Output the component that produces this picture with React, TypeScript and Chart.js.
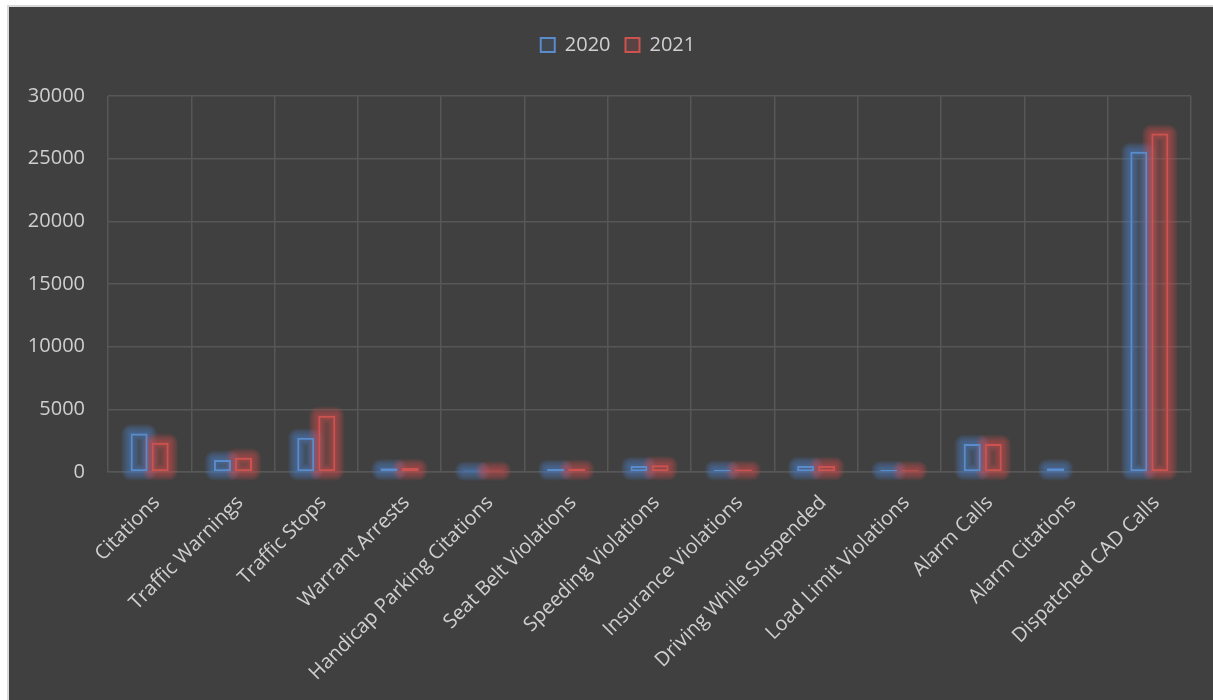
import React, { useEffect, useRef } from "react";
import { Chart, registerables } from "chart.js";

Chart.register(...registerables);

const categories = [
  "Citations",
  "Traffic Warnings",
  "Traffic Stops",
  "Warrant Arrests",
  "Handicap Parking Citations",
  "Seat Belt Violations",
  "Speeding Violations",
  "Insurance Violations",
  "Driving While Suspended",
  "Load Limit Violations",
  "Alarm Calls",
  "Alarm Citations",
  "Dispatched CAD Calls",
];

const values2020: (number | null)[] = [3080, 960, 2740, 300, 110, 240, 480, 185, 480, 150, 2240, 300, 25550];
const values2021: (number | null)[] = [2340, 1140, 4490, 320, 120, 250, 530, 190, 480, 140, 2230, null, 27000];

const seriesNames = ["2020", "2021"];

const yTicks = [0, 5000, 10000, 15000, 20000, 25000, 30000];

const FONT = "'Open Sans', 'Noto Sans', sans-serif";

const glowRGB = ["79,129,199", "205,78,75"];

const glowPlugin = {
  id: "glow",
  beforeInit(chart: any) {
    const legend = chart.legend;
    if (legend) {
      const fit = legend.fit;
      legend.fit = function () {
        fit.call(this);
        this.height += 31;
      };
    }
  },
  afterLayout(chart: any) {
    const legend = chart.legend;
    if (legend) {
      legend.left += 18;
      legend.right += 18;
    }
  },
  beforeDatasetsDraw(chart: any) {
    const ctx = chart.ctx;
    chart.data.datasets.forEach((ds: any, di: number) => {
      const meta = chart.getDatasetMeta(di);
      const rgb = glowRGB[di];
      meta.data.forEach((el: any, i: number) => {
        if (ds.data[i] === null || ds.data[i] === undefined) return;
        const p = el.getProps(["x", "y", "base", "width"], true);
        const left = p.x - p.width / 2;
        const top = Math.min(p.y, p.base);
        const h = Math.max(Math.abs(p.base - p.y), 1);
        ctx.save();
        ctx.lineJoin = "round";
        for (let k = 0; k < 8; k++) {
          ctx.strokeStyle = `rgba(${rgb},0.1)`;
          ctx.lineWidth = 3 + 2.2 * k;
          ctx.strokeRect(left, top, p.width, h);
        }
        ctx.restore();
      });
    });
  },
};

export default function App() {
  const ref = useRef<HTMLCanvasElement | null>(null);

  useEffect(() => {
    if (!ref.current) return;
    const chart = new Chart(ref.current, {
      type: "bar",
      data: {
        labels: categories,
        datasets: [
          {
            label: seriesNames[0],
            data: values2020,
            backgroundColor: "rgba(79,129,189,0.12)",
            borderColor: "#5a8bcb",
            borderWidth: 2,
            borderSkipped: false,
            categoryPercentage: 0.505,
            barPercentage: 0.81,
          },
          {
            label: seriesNames[1],
            data: values2021,
            backgroundColor: "rgba(192,80,77,0.2)",
            borderColor: "#cc5350",
            borderWidth: 2,
            borderSkipped: false,
            categoryPercentage: 0.505,
            barPercentage: 0.81,
          },
        ],
      },
      options: {
        animation: false,
        responsive: false,
        maintainAspectRatio: false,
        devicePixelRatio: 1,
        layout: { padding: { left: 0, right: 22, top: 13, bottom: 10 } },
        plugins: {
          legend: {
            position: "top",
            labels: {
              color: "#d0d0d0",
              font: { family: FONT, size: 20 },
              boxWidth: 14,
              boxHeight: 14,
              padding: 15,
            },
          },
          tooltip: { enabled: false },
        },
        scales: {
          x: {
            grid: { color: "#575757", lineWidth: 1.5, drawTicks: false, offset: true },
            border: { color: "#575757", width: 1.5 },
            ticks: {
              color: "#cfcfcf",
              font: { family: FONT, size: 20 },
              maxRotation: 45,
              minRotation: 45,
              autoSkip: false,
              padding: 19,
              labelOffset: 7,
            },
            afterFit: (s: any) => {
              s.height = 218;
            },
          },
          y: {
            min: 0,
            max: 30000,
            afterBuildTicks: (s: any) => {
              s.ticks = yTicks.map((v) => ({ value: v }));
            },
            grid: { color: "#575757", lineWidth: 1.5, drawTicks: false },
            border: { display: false },
            ticks: {
              color: "#cfcfcf",
              font: { family: FONT, size: 20 },
              padding: 23,
              callback: (v: any) => String(v),
            },
            afterFit: (s: any) => {
              s.width = 99;
            },
          },
        },
      },
      plugins: [glowPlugin],
    } as any);
    return () => chart.destroy();
  }, []);

  return (
    <div style={{ position: "fixed", inset: 0, background: "#ffffff", overflow: "hidden" }}>
      <div
        style={{
          position: "absolute",
          left: 7,
          top: 5,
          width: 1206,
          height: 695,
          borderTop: "2px solid #d9d9d9",
          borderLeft: "2px solid #d9d9d9",
          background: "#404040",
          overflow: "hidden",
        }}
      >
        <canvas ref={ref} width={1204} height={693} style={{ display: "block", width: 1204, height: 693 }} />
      </div>
    </div>
  );
}
